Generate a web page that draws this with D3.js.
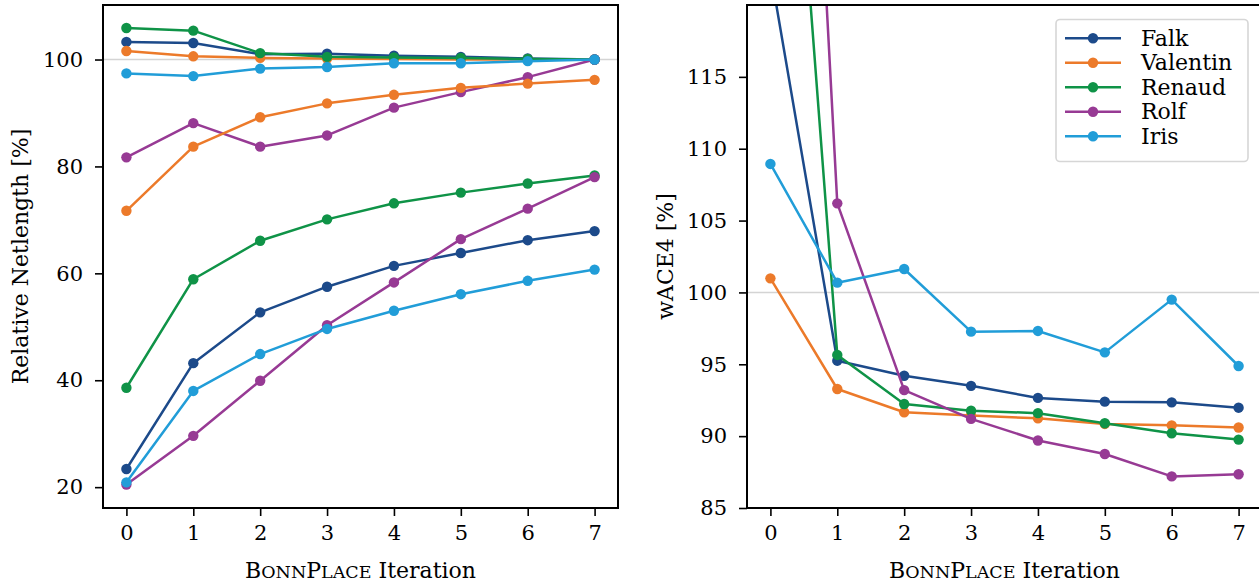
<!DOCTYPE html>
<html>
<head>
<meta charset="utf-8">
<script src="https://cdn.jsdelivr.net/npm/d3@7"></script>
<style>
  body { margin: 0; background: #fff; }
  svg text { font-family: "DejaVu Serif", "Liberation Serif", serif; fill: #000; }
</style>
</head>
<body>
<div id="chart"></div>
<script>
/* global d3 */

// iterations on the x axis
const iterations = [0, 1, 2, 3, 4, 5, 6, 7]
const names = ['Falk', 'Valentin', 'Renaud', 'Rolf', 'Iris']
const colors = ['#1c4a8a', '#ec7a2a', '#0f9347', '#973a94', '#219dd8']

// left panel: relative netlength, two runs per design
const netUpper = {
  Falk:     [103.3, 103.1, 101.0, 101.1, 100.7, 100.5, 100.2, 100.0],
  Valentin: [101.6, 100.6, 100.3, 100.2, 100.1, 100.0, 100.0, 100.0],
  Renaud:   [105.9, 105.4, 101.2, 100.5, 100.4, 100.3, 100.1, 100.0],
  Rolf:     [81.7, 88.1, 83.7, 85.8, 91.0, 93.9, 96.7, 100.0],
  Iris:     [97.4, 96.9, 98.3, 98.6, 99.3, 99.3, 99.7, 100.0]
}
const netLower = {
  Falk:     [23.4, 43.2, 52.7, 57.5, 61.4, 63.8, 66.2, 67.9],
  Valentin: [71.7, 83.7, 89.2, 91.8, 93.4, 94.7, 95.5, 96.2],
  Renaud:   [38.6, 58.9, 66.1, 70.1, 73.1, 75.1, 76.8, 78.3],
  Rolf:     [20.5, 29.6, 39.9, 50.3, 58.3, 66.4, 72.1, 78.0],
  Iris:     [20.9, 38.0, 44.9, 49.6, 53.0, 56.1, 58.6, 60.7]
}

// right panel: wACE4
const wace = {
  Falk:     [122.4, 95.25, 94.2, 93.5, 92.66, 92.4, 92.35, 91.98],
  Valentin: [100.98, 93.28, 91.66, 91.43, 91.24, 90.85, 90.75, 90.6],
  Renaud:   [156.7, 95.65, 92.24, 91.77, 91.6, 90.9, 90.2, 89.76],
  Rolf:     [193.0, 106.2, 93.2, 91.2, 89.7, 88.76, 87.2, 87.35],
  Iris:     [108.94, 100.68, 101.63, 97.27, 97.32, 95.83, 99.5, 94.88]
}

const leftTicks = [20, 40, 60, 80, 100]
const rightTicks = [85, 90, 95, 100, 105, 110, 115]

const width = 1259,
  height = 588,
  plotTop = 5,
  plotBottom = 508,
  fontFam = '"DejaVu Serif", "Liberation Serif", serif'

let svg = d3.select('#chart')
  .append('svg')
  .attr('width', width)
  .attr('height', height)

let drawPanel = (opts) => {
  const x = d3.scaleLinear()
    .domain([-0.35, 7.35])
    .range([opts.left, opts.right])

  const y = d3.scaleLinear()
    .domain(opts.yDomain)
    .range([plotBottom, plotTop])

  const g = svg.append('g')

  g.append('clipPath')
    .attr('id', opts.id)
    .append('rect')
    .attr('x', opts.left)
    .attr('y', plotTop)
    .attr('width', opts.right - opts.left)
    .attr('height', plotBottom - plotTop)

  // grey reference line at 100 %
  g.append('line')
    .attr('x1', opts.left)
    .attr('x2', opts.right)
    .attr('y1', y(100))
    .attr('y2', y(100))
    .attr('stroke', '#d4d4d4')
    .attr('stroke-width', 1.4)

  const line = d3.line()
    .x((d, i) => x(iterations[i]))
    .y(d => y(d))

  const plot = g.append('g').attr('clip-path', `url(#${opts.id})`)

  opts.series.forEach(set => {
    names.forEach((name, k) => {
      const vals = set[name]
      plot.append('path')
        .datum(vals)
        .attr('d', line)
        .attr('fill', 'none')
        .attr('stroke', colors[k])
        .attr('stroke-width', 2.5)
        .attr('stroke-linejoin', 'round')

      plot.selectAll(null)
        .data(vals)
        .enter()
        .append('circle')
        .attr('cx', (d, i) => x(iterations[i]))
        .attr('cy', d => y(d))
        .attr('r', 5.2)
        .attr('fill', colors[k])
    })
  })

  // axes
  const xAxis = g.append('g')
    .attr('transform', `translate(0, ${plotBottom})`)
    .call(d3.axisBottom(x).tickValues(iterations).tickSize(8).tickPadding(9))
  const yAxis = g.append('g')
    .attr('transform', `translate(${opts.left}, 0)`)
    .call(d3.axisLeft(y).tickValues(opts.ticks).tickSize(8).tickPadding(12))

  ;[xAxis, yAxis].forEach(a => {
    a.attr('font-family', null)
    a.select('.domain').remove()
    a.selectAll('line').attr('stroke', '#000').attr('stroke-width', 1.6)
    a.selectAll('text')
      .style('font-family', fontFam)
      .attr('font-size', 21)
      .attr('fill', '#000')
  })

  // frame
  g.append('rect')
    .attr('x', opts.left)
    .attr('y', plotTop)
    .attr('width', opts.right - opts.left)
    .attr('height', plotBottom - plotTop)
    .attr('fill', 'none')
    .attr('stroke', '#000')
    .attr('stroke-width', 2)

  // x label with hand-made small caps for BonnPlace
  const xl = g.append('text')
    .attr('x', (opts.left + opts.right) / 2)
    .attr('y', 578)
    .attr('text-anchor', 'middle')
    .attr('font-size', 22)
  xl.append('tspan').text('B')
  xl.append('tspan').attr('font-size', 17.5).text('ONN')
  xl.append('tspan').text('P')
  xl.append('tspan').attr('font-size', 17.5).text('LACE')
  xl.append('tspan').text(' Iteration')

  g.append('text')
    .attr('transform', `translate(${opts.labelX}, ${(plotTop + plotBottom) / 2}) rotate(-90)`)
    .attr('text-anchor', 'middle')
    .attr('font-size', 22)
    .text(opts.label)
}

drawPanel({
  id: 'clipL', left: 103, right: 618, yDomain: [16.1, 110.2],
  ticks: leftTicks, series: [netUpper, netLower],
  label: 'Relative Netlength [%]', labelX: 28
})

drawPanel({
  id: 'clipR', left: 747, right: 1262, yDomain: [85, 120],
  ticks: rightTicks, series: [wace],
  label: 'wACE4 [%]', labelX: 673
})

// legend
const legend = svg.append('g')
legend.append('rect')
  .attr('x', 1056)
  .attr('y', 19.5)
  .attr('width', 192)
  .attr('height', 142)
  .attr('rx', 4)
  .attr('fill', '#fff')
  .attr('stroke', '#d6d6d6')
  .attr('stroke-width', 1.6)

names.forEach((name, k) => {
  const ly = 38.3 + k * 24.5
  legend.append('line')
    .attr('x1', 1065).attr('x2', 1121)
    .attr('y1', ly).attr('y2', ly)
    .attr('stroke', colors[k])
    .attr('stroke-width', 2.5)
  legend.append('circle')
    .attr('cx', 1093).attr('cy', ly).attr('r', 5.2)
    .attr('fill', colors[k])
  legend.append('text')
    .attr('x', 1141)
    .attr('y', ly + 7.5)
    .attr('font-size', 22)
    .text(name)
})
</script>
</body>
</html>
